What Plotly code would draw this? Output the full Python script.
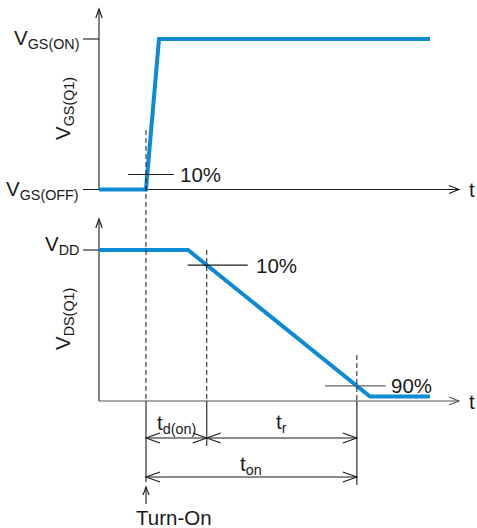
import numpy as np
import plotly.graph_objects as go

# ---- waveform data (time in arbitrary units, voltages normalised) ----
# gate-source voltage: 0 = V_GS(OFF), 1 = V_GS(ON)
t_vgs = [0, 47, 60, 331]
vgs = [0.0, 0.0, 1.0, 1.0]
# drain-source voltage, normalised to V_DD
t_vds = [0, 89, 271, 331]
vds = [1.0, 1.0, 0.03, 0.03]

t_turn_on = 47            # gate drive applied
gate_mark_level = 0.1     # 10 % of gate swing
drain_mark_levels = [0.9, 0.1]   # 10 % / 90 % of the drain fall
percent_labels = ["10%", "10%", "90%"]

# ---- canvas / scale settings ----
W, H = 477, 528
X0, XS = 99.0, 1.0          # pixel of t = 0, pixels per time unit
TOP0, TOPS = 189.5, 150.5   # gate panel: pixel of v = 0, pixels per unit
BOT0, BOTS = 401.0, 151.0   # drain panel: pixel of v = 0, pixels per unit

BLUE = "#0b8bd3"
INK = "#1a1a1a"
FONT = "Liberation Sans, Arial, sans-serif"
FS = 20.5


def px_t(t):
    return X0 + XS * t


def px_top(v):
    return TOP0 - TOPS * v


def px_bot(v):
    return BOT0 - BOTS * v


# crossing times on the falling drain edge
fall_t = [t_vds[1], t_vds[2]]
fall_v = [vds[1], vds[2]]
t_drain_marks = [float(np.interp(lv, fall_v[::-1], fall_t[::-1])) for lv in drain_mark_levels]
t_d10, t_d90 = t_drain_marks

fig = go.Figure()
fig.add_trace(go.Scatter(x=t_vgs, y=vgs, mode="lines", xaxis="x", yaxis="y",
                         line=dict(color=BLUE, width=4), hoverinfo="skip"))
fig.add_trace(go.Scatter(x=t_vds, y=vds, mode="lines", xaxis="x", yaxis="y2",
                         line=dict(color=BLUE, width=4), hoverinfo="skip"))

shapes = []
annotations = []


def seg(x0, y0, x1, y1, color=INK, width=1.1, dash=None, layer="above"):
    line = dict(color=color, width=width)
    if dash:
        line["dash"] = dash
    shapes.append(dict(type="line", xref="x2", yref="y3", x0=x0, y0=y0, x1=x1, y1=y1,
                       line=line, layer=layer))


def head(tx, ty, dx, dy, length, half, color=INK, width=1.1, layer="above"):
    n = np.hypot(dx, dy)
    ux, uy = dx / n, dy / n
    bx, by = tx - ux * length, ty - uy * length
    nx, ny = -uy, ux
    path = (f"M {bx + nx * half},{by + ny * half} L {tx},{ty} "
            f"L {bx - nx * half},{by - ny * half}")
    shapes.append(dict(type="path", xref="x2", yref="y3", path=path,
                       line=dict(color=color, width=width), layer=layer))


def label(x, y, text, xanchor="center", yanchor="middle", angle=0, size=FS):
    annotations.append(dict(xref="x2", yref="y3", x=x, y=y, text=text, showarrow=False,
                            xanchor=xanchor, yanchor=yanchor, textangle=angle,
                            font=dict(family=FONT, size=size, color=INK)))


t_axis_end = 360

# ---- gate panel axes ----
seg(px_t(0), px_top(0), px_t(0), 9, layer="below")
head(px_t(0), 9, 0, -1, 9, 3.2)
seg(px_t(0) - 16, px_top(0), px_t(t_axis_end), px_top(0), layer="below")
head(px_t(t_axis_end), px_top(0), 1, 0, 10, 4)
seg(px_t(0) - 16, px_top(1), px_t(0), px_top(1), layer="below")
label(472, px_top(0), "t")
label(81, px_top(1), "V<sub>GS(ON)</sub>", xanchor="right")
label(81, px_top(0), "V<sub>GS(OFF)</sub>", xanchor="right")
label(64, 109, "V<sub>GS(Q1)</sub>", angle=-90)

# ---- drain panel axes ----
seg(px_t(0), px_bot(0), px_t(0), 219, layer="below")
head(px_t(0), 219, 0, -1, 9, 3.2)
seg(px_t(0), px_bot(0), px_t(t_axis_end), px_bot(0), color="#555", layer="below")
head(px_t(t_axis_end), px_bot(0), 1, 0, 10, 4, color="#555")
seg(px_t(0) - 16, px_bot(1), px_t(0), px_bot(1), layer="below")
label(472, px_bot(0), "t")
label(81, px_bot(1) - 5, "V<sub>DD</sub>", xanchor="right")
label(64, 319, "V<sub>DS(Q1)</sub>", angle=-90)

# ---- 10 % / 90 % markers ----
dash = "5px,3px"
# gate 10 %
seg(px_t(t_turn_on), 130, px_t(t_turn_on), px_bot(0), dash=dash, width=1)
seg(px_t(t_turn_on) - 18, px_top(gate_mark_level), px_t(t_turn_on) + 28, px_top(gate_mark_level))
label(px_t(t_turn_on) + 32, px_top(gate_mark_level), percent_labels[0], xanchor="left")
# drain 10 %
seg(px_t(t_d10), px_bot(vds[0]), px_t(t_d10), px_bot(0), dash=dash, width=1)
seg(px_t(t_d10) - 19, px_bot(drain_mark_levels[0]), px_t(t_d10) + 41, px_bot(drain_mark_levels[0]))
label(px_t(t_d10) + 47, px_bot(drain_mark_levels[0]), percent_labels[1], xanchor="left")
# drain 90 %
seg(px_t(t_d90), 355, px_t(t_d90), px_bot(0), dash=dash, width=1)
seg(px_t(t_d90) - 32, px_bot(drain_mark_levels[1]), px_t(t_d90) + 29, px_bot(drain_mark_levels[1]),
    color="#666")
label(px_t(t_d90) + 32, px_bot(drain_mark_levels[1]), percent_labels[2], xanchor="left")

# ---- extension lines below the time axis ----
seg(px_t(t_turn_on), px_bot(0), px_t(t_turn_on), 482)
seg(px_t(t_d10), px_bot(0), px_t(t_d10), 446)
seg(px_t(t_d90), px_bot(0), px_t(t_d90), 485)

# ---- dimension arrows ----
y_dim1, y_dim2 = 438, 477
for a, b in [(t_turn_on, t_d10), (t_d10, t_d90)]:
    seg(px_t(a), y_dim1, px_t(b), y_dim1)
    head(px_t(a), y_dim1, -1, 0, 14, 5)
    head(px_t(b), y_dim1, 1, 0, 14, 5)
seg(px_t(t_turn_on), y_dim2, px_t(t_d90), y_dim2)
head(px_t(t_turn_on), y_dim2, -1, 0, 14, 5)
head(px_t(t_d90), y_dim2, 1, 0, 14, 5)

label((px_t(t_turn_on) + px_t(t_d10)) / 2, 424, "t<sub>d(on)</sub>")
label((px_t(t_d10) + px_t(t_d90)) / 2, 423, "t<sub>r</sub>")
label((px_t(t_turn_on) + px_t(t_d90)) / 2, 465, "t<sub>on</sub>")

# ---- turn-on marker ----
seg(px_t(t_turn_on), 504, px_t(t_turn_on), 487)
head(px_t(t_turn_on), 487, 0, -1, 8, 3)
label(px_t(t_turn_on) + 28, 517, "Turn-On")

hidden = dict(visible=False, showgrid=False, zeroline=False, fixedrange=True)
fig.update_layout(
    width=W, height=H, autosize=False,
    margin=dict(l=0, r=0, t=0, b=0, pad=0),
    paper_bgcolor="white", plot_bgcolor="white",
    showlegend=False,
    xaxis=dict(range=[-X0 / XS, (W - X0) / XS], domain=[0, 1], **hidden),
    yaxis=dict(range=[(TOP0 - H) / TOPS, TOP0 / TOPS], domain=[0, 1], **hidden),
    yaxis2=dict(range=[(BOT0 - H) / BOTS, BOT0 / BOTS], overlaying="y", **hidden),
    xaxis2=dict(range=[0, W], overlaying="x", **hidden),
    yaxis3=dict(range=[H, 0], overlaying="y", anchor="x2", **hidden),
    shapes=shapes,
    annotations=annotations,
)

fig.write_html("out.html", config=dict(displayModeBar=False))
